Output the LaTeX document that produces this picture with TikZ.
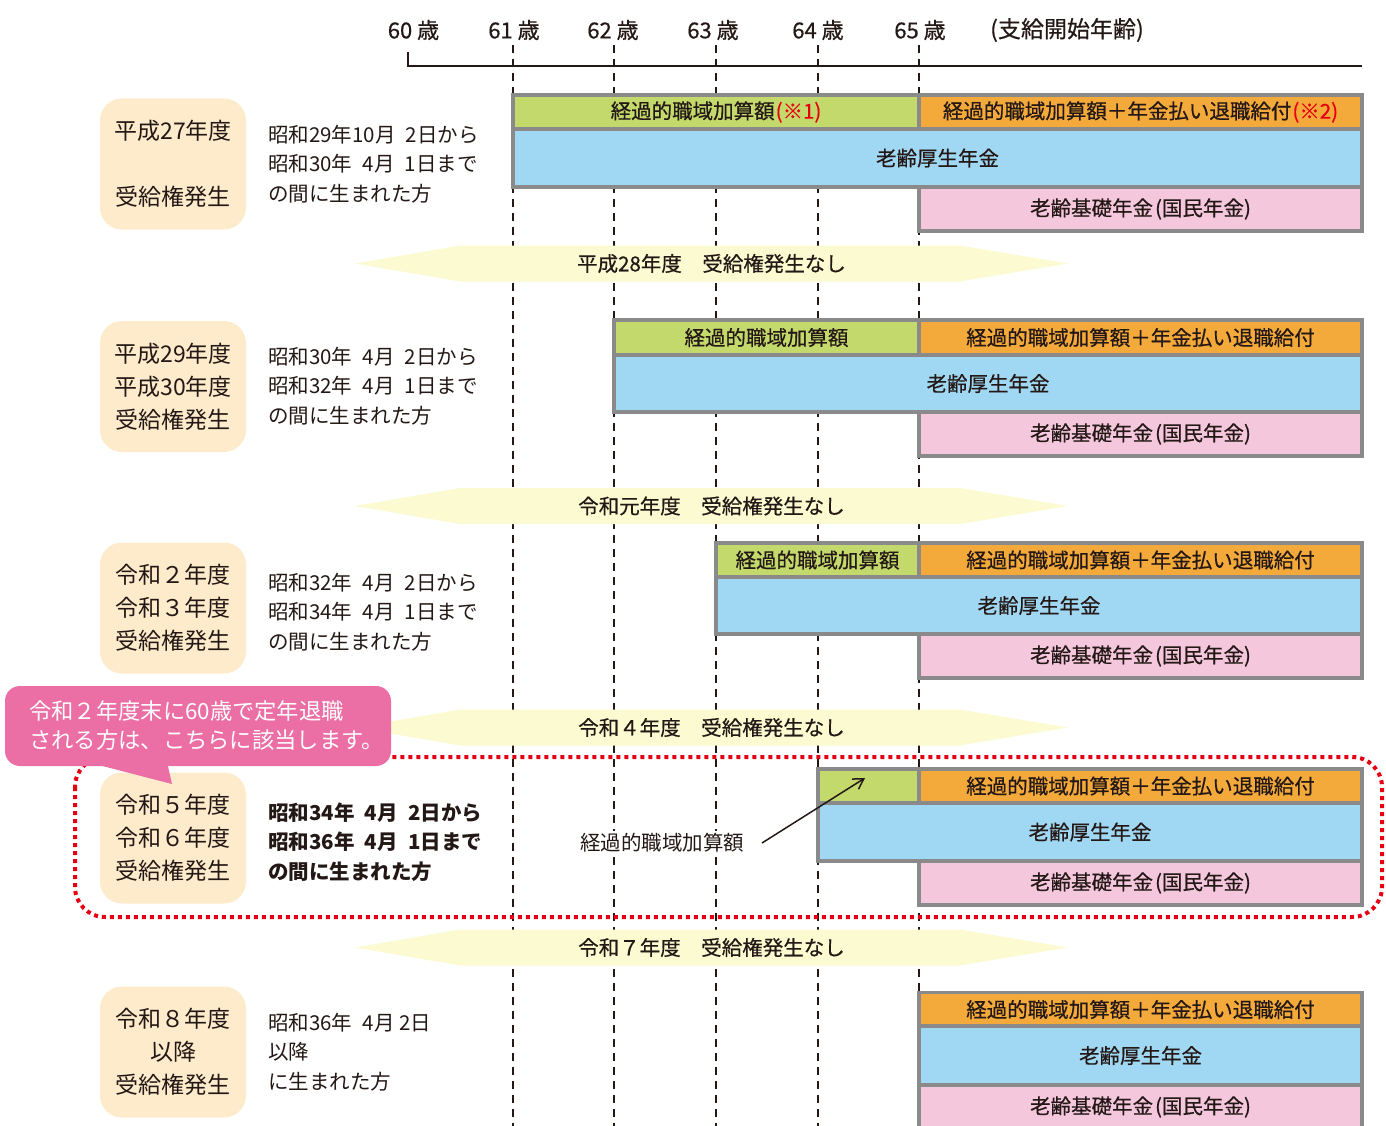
\documentclass[tikz,border=0pt]{standalone}
\usepackage{fontspec}
\setmainfont{Noto Sans CJK JP}
\newfontfamily\medfont{Noto Sans CJK JP}[FakeBold=0.5]
\usetikzlibrary{arrows.meta}
\definecolor{peach}{HTML}{FDEBCB}
\definecolor{cgreen}{HTML}{C4D96B}
\definecolor{corange}{HTML}{F4A93B}
\definecolor{cblue}{HTML}{A0D8F4}
\definecolor{cpink}{HTML}{F4C7DC}
\definecolor{bandc}{HTML}{FCFAD0}
\definecolor{gborder}{HTML}{8A8A8A}
\definecolor{callc}{HTML}{EB6EA4}
\definecolor{cred}{HTML}{E60012}
\definecolor{txt}{HTML}{231815}
\newcommand{\kisotxt}{老齢基礎年金\kern2pt(国民年金)}
\begin{document}
\begin{tikzpicture}[x=1pt,y=-1pt,
  cell/.style={draw=gborder, line width=3.5pt, inner sep=0pt, text=txt,
    font=\medfont\fontsize{20.5}{24}\selectfont},
  lbox/.style={fill=peach, rounded corners=22pt, minimum width=146pt,
    minimum height=131pt, align=center, text=txt, inner sep=0pt,
    font=\fontsize{23}{33}\selectfont},
  dates/.style={anchor=west, align=left, text=txt, inner sep=0pt,
    font=\fontsize{20.5}{29.5}\selectfont},
  bandtext/.style={text=txt, inner sep=0pt, font=\medfont\fontsize{20.5}{24}\selectfont},
  age/.style={text=txt, inner sep=0pt, font=\medfont\fontsize{22}{24}\selectfont},
  vdash/.style={draw=txt, line width=1.5pt, dash pattern=on 8pt off 6pt},
  reddot/.style={draw=cred, line width=4pt, dash pattern=on 4pt off 4pt, rounded corners=30pt},
]
\useasboundingbox (0,0) rectangle (1386,1126);
% ---------- header ----------
\node[age] (a60) at (413.5,30) {60 歳};
\node[age] (a61) at (514,30) {61 歳};
\node[age] (a62) at (613,30) {62 歳};
\node[age] (a63) at (713,30) {63 歳};
\node[age] (a64) at (818,30) {64 歳};
\node[age] (a65) at (920,30) {65 歳};
\node[age, anchor=west, font=\medfont\fontsize{23}{24}\selectfont] (ahead) at (990,30) {(支給開始年齢)};
\coordinate (ax0) at (408,52);
\coordinate (ax1) at (408,66);
\coordinate (ax2) at (1362,66);
\draw[txt, line width=2.5pt] (ax0) -- (ax1) -- (ax2);
% dashed verticals
\foreach \xx/\nm in {513/d61,614/d62,716/d63,818/d64,919/d65}{
  \coordinate (\nm t) at (\xx,45);
  \coordinate (\nm b) at (\xx,1126);
  \draw[vdash] (\nm t) -- (\nm b);
}
% ---------- red dotted frame ----------
\draw[reddot] (75,757) rectangle (1382,917);
% ---------- bands ----------
\foreach \c/\nm/\tx in {263.5/band1/平成28年度　受給権発生なし,506/band2/令和元年度　受給権発生なし,727.5/band3/令和４年度　受給権発生なし,947.5/band4/令和７年度　受給権発生なし}{
  \fill[bandc] (355,\c) -- (460,\c-18) -- (960,\c-18) -- (1068,\c) -- (960,\c+18) -- (460,\c+18) -- cycle;
  \node[bandtext] (\nm) at (711.5,\c) {\tx};
}
% ---------- row 1 ----------
\node[cell, fill=cgreen, minimum width=406pt, minimum height=34pt] (g1) at (716,112) {経過的職域加算額\textcolor{cred}{\kern1pt(※1)}};
\node[cell, fill=corange, minimum width=443pt, minimum height=34pt] (o1) at (1140.5,112) {経過的職域加算額＋年金払い退職給付\textcolor{cred}{\kern1pt(※2)}};
\node[cell, fill=cblue, minimum width=849pt, minimum height=58pt] (b1) at (937.5,158) {老齢厚生年金};
\node[cell, fill=cpink, minimum width=443pt, minimum height=44pt] (p1) at (1140.5,209) {\kisotxt};
% ---------- row 2 ----------
\node[cell, fill=cgreen, minimum width=305pt, minimum height=35pt] (g2) at (766.5,337.5) {経過的職域加算額};
\node[cell, fill=corange, minimum width=443pt, minimum height=35pt] (o2) at (1140.5,337.5) {経過的職域加算額＋年金払い退職給付};
\node[cell, fill=cblue, minimum width=748pt, minimum height=57pt] (b2) at (988,383.5) {老齢厚生年金};
\node[cell, fill=cpink, minimum width=443pt, minimum height=44pt] (p2) at (1140.5,434) {\kisotxt};
% ---------- row 3 ----------
\node[cell, fill=cgreen, minimum width=203pt, minimum height=34pt] (g3) at (817.5,560) {経過的職域加算額};
\node[cell, fill=corange, minimum width=443pt, minimum height=34pt] (o3) at (1140.5,560) {経過的職域加算額＋年金払い退職給付};
\node[cell, fill=cblue, minimum width=646pt, minimum height=57pt] (b3) at (1039,605.5) {老齢厚生年金};
\node[cell, fill=cpink, minimum width=443pt, minimum height=44pt] (p3) at (1140.5,656) {\kisotxt};
% ---------- row 4 ----------
\node[cell, fill=cgreen, minimum width=101pt, minimum height=34pt] (g4) at (868.5,786) {};
\node[cell, fill=corange, minimum width=443pt, minimum height=34pt] (o4) at (1140.5,786) {経過的職域加算額＋年金払い退職給付};
\node[cell, fill=cblue, minimum width=544pt, minimum height=58pt] (b4) at (1090,832) {老齢厚生年金};
\node[cell, fill=cpink, minimum width=443pt, minimum height=44pt] (p4) at (1140.5,883) {\kisotxt};
% ---------- row 5 ----------
\node[cell, fill=corange, minimum width=443pt, minimum height=34pt] (o5) at (1140.5,1009.5) {経過的職域加算額＋年金払い退職給付};
\node[cell, fill=cblue, minimum width=443pt, minimum height=59pt] (b5) at (1140.5,1055.5) {老齢厚生年金};
\node[cell, fill=cpink, minimum width=443pt, minimum height=44pt] (p5) at (1140.5,1107) {\kisotxt};
% label + arrow row 4
\node[fill=white, text=txt, inner sep=3pt, font=\fontsize{20.5}{24}\selectfont] (lbl4) at (662,843) {経過的職域加算額};
\coordinate (tip4) at (865,778);
\coordinate (st4) at (762,843);
\draw[txt, line width=1.5pt, -{Straight Barb[length=10pt,width=12pt]}] (st4) -- (tip4);
% ---------- left boxes ----------
\node[lbox] (l1) at (173,164) {平成27年度\\\mbox{}\\受給権発生};
\node[lbox] (l2) at (173,386.5) {平成29年度\\平成30年度\\受給権発生};
\node[lbox] (l3) at (173,608) {令和２年度\\令和３年度\\受給権発生};
\node[lbox] (l4) at (173,838) {令和５年度\\令和６年度\\受給権発生};
\node[lbox] (l5) at (173,1052) {令和８年度\\以降\\受給権発生};
% dates
\node[dates] (t1) at (268,164) {昭和29年10月\hspace{0.5em}2日から\\昭和30年\hspace{0.5em}4月\hspace{0.5em}1日まで\\の間に生まれた方};
\node[dates] (t2) at (268,386) {昭和30年\hspace{0.5em}4月\hspace{0.5em}2日から\\昭和32年\hspace{0.5em}4月\hspace{0.5em}1日まで\\の間に生まれた方};
\node[dates] (t3) at (268,612) {昭和32年\hspace{0.5em}4月\hspace{0.5em}2日から\\昭和34年\hspace{0.5em}4月\hspace{0.5em}1日まで\\の間に生まれた方};
\node[dates, font=\bfseries\fontsize{20.5}{29.5}\selectfont] (t4) at (268,842) {昭和34年\hspace{0.5em}4月\hspace{0.5em}2日から\\昭和36年\hspace{0.5em}4月\hspace{0.5em}1日まで\\の間に生まれた方};
\node[dates] (t5) at (268,1052) {昭和36年\hspace{0.5em}4月 2日\\以降\\に生まれた方};
% ---------- callout ----------
\fill[callc] (87,762) -- (172,784) -- (167,762) -- cycle;
\node[fill=callc, rounded corners=15pt, minimum width=386pt, minimum height=80pt, inner sep=0pt] (call) at (198,726) {};
\node[anchor=west, align=left, text=white, inner sep=0pt, font=\fontsize{22.3}{29}\selectfont] (calltx) at (29,725.5) {令和２年度末に60歳で定年退職\\される方は、こちらに該当します。};
\end{tikzpicture}
\end{document}
